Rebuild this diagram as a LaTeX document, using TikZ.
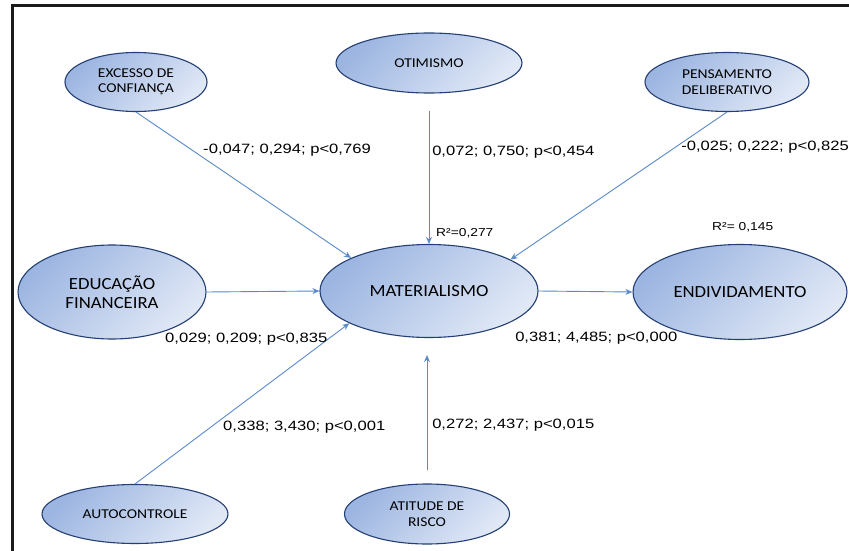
\documentclass[tikz,border=0pt]{standalone}
\usepackage{fontspec}
\setmainfont{Liberation Sans}
\newfontfamily\calib{Carlito}
\usetikzlibrary{shapes.geometric,arrows.meta}
\definecolor{fdark}{HTML}{9CB5E1}
\definecolor{flight}{HTML}{E0E8F6}
\definecolor{bordc}{HTML}{243F73}
\definecolor{arrc}{HTML}{5A8AC8}
\definecolor{framec}{HTML}{1A1A1A}
\tikzset{
  lat/.style={ellipse, draw=bordc, line width=1.1pt, inner sep=0pt,
    top color=fdark, bottom color=flight, shading angle=45, align=center},
  bigtxt/.style={font=\calib\fontsize{17}{19}\selectfont, xscale=1.1},
  smalltxt/.style={font=\calib\fontsize{13.5}{15.5}\selectfont, xscale=1.15},
  path/.style={draw=arrc, line width=0.9pt, -{Stealth[length=7pt,width=6pt]}},
  coef/.style={anchor=west, inner sep=0pt, font=\fontsize{13.5}{15}\selectfont, xscale=1.23},
  rsq/.style={anchor=west, inner sep=0pt, font=\fontsize{11.5}{13}\selectfont, xscale=1.2},
}
\begin{document}
\begin{tikzpicture}[x=1pt,y=-1pt]
\useasboundingbox (0,0) rectangle (849,551);
\fill[white] (0,0) rectangle (849,551);
% frame
\draw[framec, line width=3pt] (12.5,551) -- (12.5,5.5) -- (849,5.5);
% latent variables (widths divided by the text xscale)
\node[lat, smalltxt, minimum width=123.5pt, minimum height=59pt] (exc) at (136,82) {EXCESSO DE\\CONFIANÇA};
\node[lat, smalltxt, minimum width=161.7pt, minimum height=60pt] (oti) at (429,63) {OTIMISMO};
\node[lat, smalltxt, minimum width=142.6pt, minimum height=59pt] (pen) at (727,82) {PENSAMENTO\\DELIBERATIVO};
\node[lat, bigtxt, minimum width=170.9pt, minimum height=94pt] (edu) at (112,292) {EDUCAÇÃO\\FINANCEIRA};
\node[lat, bigtxt, minimum width=198.2pt, minimum height=93pt] (mat) at (429,291) {MATERIALISMO};
\node[lat, bigtxt, minimum width=194.5pt, minimum height=95pt] (end) at (740,292) {ENDIVIDAMENTO};
\node[lat, smalltxt, minimum width=161.7pt, minimum height=59pt] (aut) at (135,514) {AUTOCONTROLE};
\node[lat, smalltxt, minimum width=143.5pt, minimum height=60pt] (ati) at (427,514) {ATITUDE DE\\RISCO};
% paths
\draw[path] (exc.south) -- (mat.155.6);
\draw[path, shorten <=17pt] (oti.south) -- (mat.north);
\draw[path] (pen.south) -- (mat.23.3);
\draw[path] (edu.east) -- (mat.west);
\draw[path] (aut.north) -- (mat.204);
\draw[path, shorten <=13pt, shorten >=17pt] (ati.north) -- (ati.north |- mat.south);
\draw[path] (mat.east) -- (end.west);
% coefficients
\node[coef] (l1) at (203,150) {-0,047; 0,294; p<0,769};
\node[coef] (l2) at (432,152) {0,072; 0,750; p<0,454};
\node[coef] (l3) at (681,147) {-0,025; 0,222; p<0,825};
\node[coef] (l4) at (165,339) {0,029; 0,209; p<0,835};
\node[coef] (l5) at (515,338) {0,381; 4,485; p<0,000};
\node[coef] (l6) at (223,427) {0,338; 3,430; p<0,001};
\node[coef] (l7) at (432,425) {0,272; 2,437; p<0,015};
\node[rsq] (r1) at (436,233) {R²=0,277};
\node[rsq] (r2) at (712,227) {R²= 0,145};
\end{tikzpicture}
\end{document}
